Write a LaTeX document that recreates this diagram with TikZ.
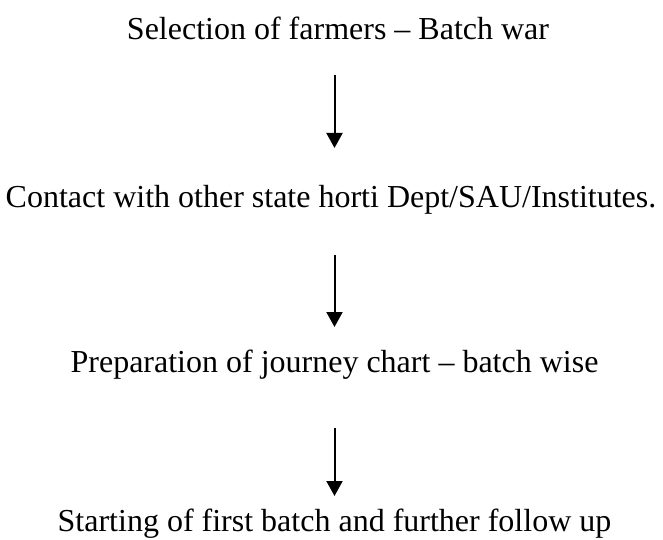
\documentclass[tikz,border=0pt]{standalone}
\usepackage{fontspec}
\newfontfamily\flowfont{Liberation Serif}
\usetikzlibrary{arrows.meta}
\tikzset{
  steptext/.style={anchor=base, inner sep=0pt, font=\flowfont\fontsize{32}{38}\selectfont},
  flowarrow/.style={line width=2pt, -{Triangle[length=15pt,width=16pt]}}
}
\begin{document}
\begin{tikzpicture}[x=1pt,y=-1pt]
  \useasboundingbox (0,0) rectangle (663,540);
  \node[steptext] (s1) at (338,40) {Selection of farmers – Batch war};
  \node[steptext] (s2) at (331,207) {Contact with other state horti Dept/SAU/Institutes.};
  \node[steptext] (s3) at (334.5,372) {Preparation of journey chart – batch wise};
  \node[steptext] (s4) at (334.5,531) {Starting of first batch and further follow up};
  \coordinate (a1s) at (334.5,75);
  \coordinate (a1e) at (334.5,148);
  \coordinate (a2s) at (334.5,255);
  \coordinate (a2e) at (334.5,327);
  \coordinate (a3s) at (334.5,428);
  \coordinate (a3e) at (334.5,496);
  \draw[flowarrow] (a1s) -- (a1e);
  \draw[flowarrow] (a2s) -- (a2e);
  \draw[flowarrow] (a3s) -- (a3e);
\end{tikzpicture}
\end{document}
